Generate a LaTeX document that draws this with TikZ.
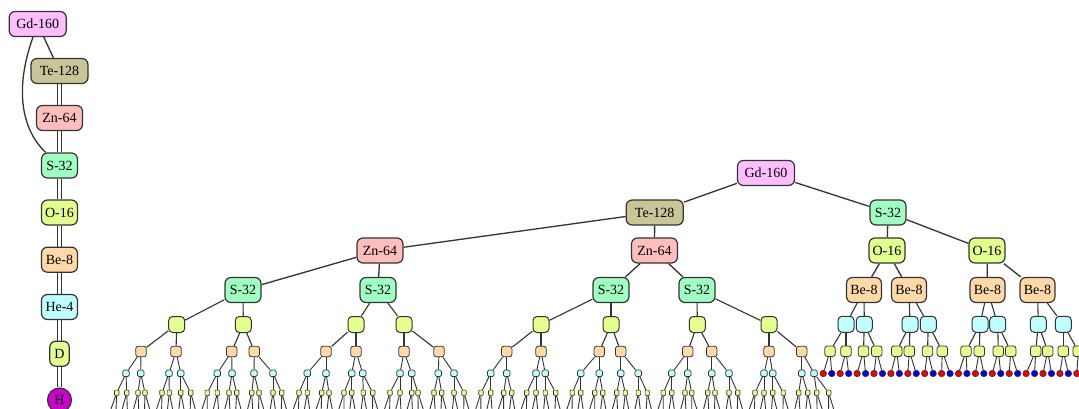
\documentclass[tikz,border=0pt]{standalone}
\usepackage{fontspec}
\setmainfont{Liberation Serif}
\definecolor{cGd}{HTML}{FFBFFF}
\definecolor{cTe}{HTML}{C8C697}
\definecolor{cZn}{HTML}{FFBEBE}
\definecolor{cS}{HTML}{A0FFC2}
\definecolor{cO}{HTML}{E3FF8F}
\definecolor{cBe}{HTML}{FFDAA8}
\definecolor{cHe}{HTML}{BFFFFF}
\definecolor{cD}{HTML}{E3FF8F}
\definecolor{cH}{HTML}{CC00CC}
\definecolor{cP}{HTML}{EE0000}
\definecolor{cN}{HTML}{0000DD}
\definecolor{edgec}{HTML}{333333}
\begin{document}
\begin{tikzpicture}[x=1pt,y=-1pt,
  nuc/.style={draw=edgec, line width=1.2pt, rounded corners=6pt, minimum height=25pt,
    inner xsep=2pt, inner ysep=0pt, font=\fontsize{14}{14}\selectfont},
  lnk/.style={draw=edgec, line width=1.3pt},
  lnks/.style={draw=edgec, line width=1.1pt},
  lnkt/.style={draw=edgec, line width=0.9pt},
  sqa/.style={draw=edgec, line width=1pt, rounded corners=4pt, minimum size=16pt, inner sep=0pt},
  sqb/.style={draw=edgec, line width=0.8pt, rounded corners=2.5pt, minimum size=10.5pt, inner sep=0pt},
  sqc/.style={draw=edgec, line width=0.7pt, rounded corners=1.5pt, minimum size=6.5pt, inner sep=0pt},
  sqd/.style={draw=edgec, line width=0.6pt, rounded corners=1pt, minimum width=4.5pt, minimum height=5.5pt, inner sep=0pt},
  hdot/.style={circle, draw=edgec, line width=0.6pt, minimum size=6.5pt, inner sep=0pt}]
\useasboundingbox (0,0) rectangle (1079,408);
\clip (0,0) rectangle (1079,408);

% ---------- left chain ----------
\node[nuc, fill=cGd, minimum width=57pt] (c0) at (37.7,24) {Gd-160};
\node[nuc, fill=cTe, minimum width=57pt] (c1) at (59.5,71) {Te-128};
\node[nuc, fill=cZn, minimum width=46pt] (c2) at (59.5,118) {Zn-64};
\node[nuc, fill=cS, minimum width=36pt] (c3) at (59.5,165.5) {S-32};
\node[nuc, fill=cO, minimum width=36pt] (c4) at (59.5,212.5) {O-16};
\node[nuc, fill=cBe, minimum width=36pt] (c5) at (59.5,259.7) {Be-8};
\node[nuc, fill=cHe, minimum width=36pt] (c6) at (59.5,307) {He-4};
\node[nuc, fill=cD, minimum width=19.5pt] (c7) at (59.5,353.7) {D};
\node[circle, draw=edgec, line width=1.2pt, fill=cH, minimum size=24pt, inner sep=0pt,
  font=\fontsize{14}{14}\selectfont] (c8) at (59.5,400) {H};
\draw[lnk] (c0) -- (c1);
\draw[lnk] (c0) .. controls (14,90) and (22,130) .. (c3);
\foreach \a/\b in {c1/c2,c2/c3,c3/c4,c4/c5,c5/c6,c6/c7,c7/c8}{
  \draw[lnk] ([xshift=-2.2pt]\a.south) -- ([xshift=-2.2pt]\b.north);
  \draw[lnk] ([xshift=2.2pt]\a.south) -- ([xshift=2.2pt]\b.north);
}

% ---------- tree: labelled levels ----------
\node[nuc, fill=cGd, minimum width=57pt] (t0) at (766,173) {Gd-160};
\node[nuc, fill=cTe, minimum width=57pt] (t1) at (654.7,212.5) {Te-128};
\node[nuc, fill=cS, minimum width=36pt] (t2) at (888,212.5) {S-32};
\node[nuc, fill=cZn, minimum width=46pt] (z0) at (380,250.5) {Zn-64};
\node[nuc, fill=cZn, minimum width=46pt] (z1) at (654.5,250.5) {Zn-64};
\node[nuc, fill=cS, minimum width=36pt] (S0) at (243,290) {S-32};
\node[nuc, fill=cS, minimum width=36pt] (S1) at (378,290) {S-32};
\node[nuc, fill=cS, minimum width=36pt] (S2) at (611,290) {S-32};
\node[nuc, fill=cS, minimum width=36pt] (S3) at (697,290) {S-32};
\node[nuc, fill=cO, minimum width=36pt] (o0) at (887,250.5) {O-16};
\node[nuc, fill=cO, minimum width=36pt] (o1) at (987,250.5) {O-16};
\node[nuc, fill=cBe, minimum width=35pt] (b0) at (864,290) {Be-8};
\node[nuc, fill=cBe, minimum width=35pt] (b1) at (909,290) {Be-8};
\node[nuc, fill=cBe, minimum width=35pt] (b2) at (987.5,290) {Be-8};
\node[nuc, fill=cBe, minimum width=35pt] (b3) at (1037.5,290) {Be-8};
\foreach \a/\b in {t0/t1,t0/t2,t1/z0,t1/z1,z0/S0,z0/S1,z1/S2,z1/S3,t2/o0,t2/o1,o0/b0,o0/b1,o1/b2,o1/b3}
  \draw[lnk] (\a) -- (\b);

% ---------- left subtree, small levels ----------
\foreach \x [count=\i from 0] in {176.7,243.3,356,404,541,611,697.3,769}{
  \node[sqa, fill=cO] (La-\i) at (\x,324.5) {};
  \pgfmathtruncatemacro\p{\i/2}
  \draw[lnks] (S\p) -- (La-\i);
}
\foreach \x [count=\i from 0] in {141,176,231.7,254.3,326,356,404,439,506.7,541,599.3,620.7,687.7,711.7,769,801.7}{
  \node[sqb, fill=cBe] (Lb-\i) at (\x,351.5) {};
  \pgfmathtruncatemacro\p{\i/2}
  \draw[lnks] (La-\p) -- (Lb-\i);
}
\foreach \x [count=\i from 0] in {126,140.7,169,180.7,217.3,232,254,273,307.3,326,351.7,362.7,400,411.7,438.3,454,490.7,506.7,536,545.3,580.7,599.3,620.7,638.3,671.7,687.7,711.7,729,764,772.7,801.7,814}{
  \node[sqc, fill=cHe] (Lc-\i) at (\x,373.3) {};
  \pgfmathtruncatemacro\p{\i/2}
  \draw[lnkt] (Lb-\p) -- (Lc-\i);
}
\foreach \x [count=\i from 0] in {116.7,126.7,138,145,162,169.3,180.7,190.7,207.3,217.3,229,236.7,251.7,259,273,281.7,299,307.3,321.7,329,344,351.7,363.3,372.7,390,400,411.7,418,434,441.7,454,464,481,490.7,503.7,511.7,526.7,536,545.3,555.7,572.3,580.7,594.7,602.7,616.7,625.3,638.3,647.3,663.3,671.7,685,691.7,707.7,715,729,737.7,755,764,772.7,783.3,798.7,807.7,816.7,828.7}{
  \node[sqd, fill=cD] (Ld-\i) at (\x,392.8) {};
  \pgfmathtruncatemacro\p{\i/2}
  \draw[lnkt] (Lc-\p) -- (Ld-\i);
}
\foreach \k in {0,...,127}{
  \pgfmathsetmacro\hx{110.3+5.7*\k}
  \coordinate (Le-\k) at (\hx,411);
  \pgfmathtruncatemacro\p{\k/2}
  \draw[lnkt] (Ld-\p) -- (Le-\k);
}

% ---------- right subtree, small levels ----------
\foreach \x [count=\i from 0] in {846,864.3,910,928.3,980,997.7,1038.3,1063.3}{
  \node[sqa, fill=cHe] (Ra-\i) at (\x,324.3) {};
  \pgfmathtruncatemacro\p{\i/2}
  \draw[lnks] (b\p) -- (Ra-\i);
}
\foreach \x [count=\i from 0] in {830,846,863.5,876.7,896.7,909.3,927.5,942.3,966,979.3,998.3,1010.7,1035.7,1047.7,1063.3,1078.3}{
  \node[sqb, fill=cD] (Rb-\i) at (\x,351.2) {};
  \pgfmathtruncatemacro\p{\i/2}
  \draw[lnks] (Ra-\p) -- (Rb-\i);
}
\foreach \k in {0,...,31}{
  \pgfmathsetmacro\hx{823.3+8.45*\k}
  \ifodd\k\def\hc{cN}\else\def\hc{cP}\fi
  \node[hdot, fill=\hc] (Rc-\k) at (\hx,373.5) {};
  \pgfmathtruncatemacro\p{\k/2}
  \draw[lnkt] (Rb-\p) -- (Rc-\k);
}
\end{tikzpicture}
\end{document}
